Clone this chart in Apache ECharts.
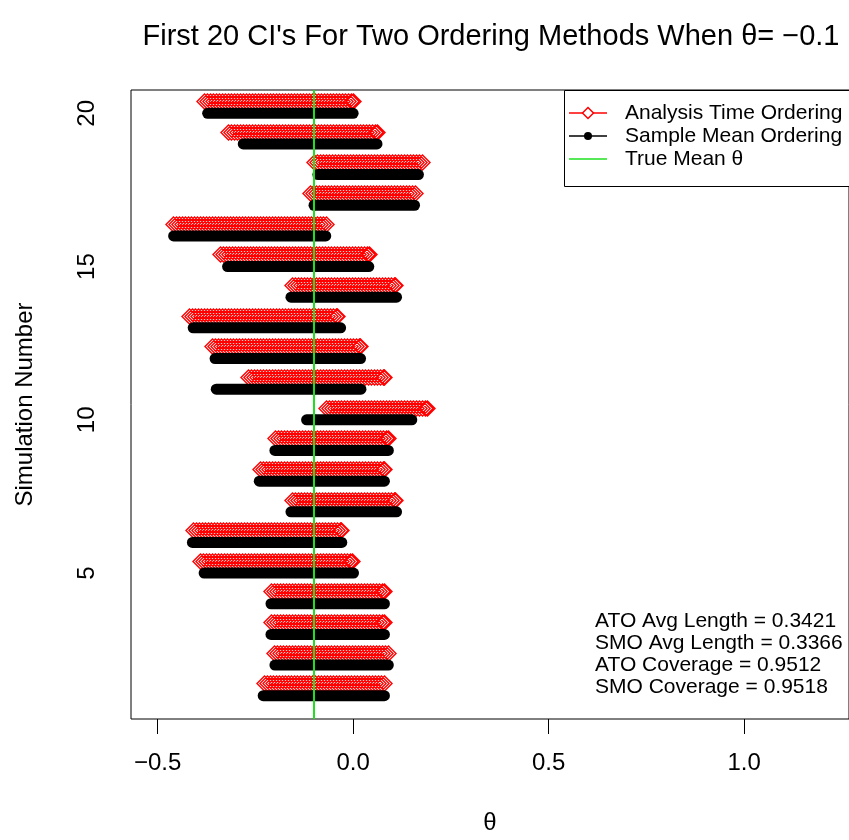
<!DOCTYPE html>
<html>
<head>
<meta charset="utf-8">
<script src="https://cdn.jsdelivr.net/npm/echarts@6/dist/echarts.min.js"></script>
<style>
  html, body { margin: 0; padding: 0; background: #ffffff; }
  #chart { width: 849px; height: 840px; }
</style>
</head>
<body>
<div id="chart"></div>
<script>
// Confidence intervals for the first 20 simulation runs (index 0 = run 1)
const simNumbers = [1, 2, 3, 4, 5, 6, 7, 8, 9, 10, 11, 12, 13, 14, 15, 16, 17, 18, 19, 20];
// Analysis Time Ordering (ATO) limits
const atoLower = [-0.229, -0.203, -0.210, -0.210, -0.391, -0.409, -0.157, -0.239, -0.199, -0.069,
                  -0.269, -0.361, -0.419, -0.157, -0.340, -0.460, -0.110, -0.099, -0.321, -0.382];
const atoUpper = [0.080, 0.090, 0.080, 0.080, -0.004, -0.032, 0.108, 0.080, 0.090, 0.190,
                  0.078, 0.017, -0.042, 0.108, 0.040, -0.069, 0.159, 0.175, 0.060, 0.000];
// Sample Mean Ordering (SMO) limits
const smoLower = [-0.230, -0.200, -0.210, -0.210, -0.381, -0.411, -0.159, -0.240, -0.200, -0.119,
                  -0.350, -0.353, -0.409, -0.159, -0.321, -0.459, -0.100, -0.090, -0.281, -0.372];
const smoUpper = [0.080, 0.090, 0.080, 0.080, 0.001, -0.029, 0.111, 0.080, 0.090, 0.150,
                  0.020, 0.019, -0.032, 0.111, 0.040, -0.070, 0.157, 0.167, 0.061, 0.000];
const trueMean = -0.1;
const xTicks = [-0.5, 0.0, 0.5, 1.0];
const yTicks = [5, 10, 15, 20];
const atoRowShift = 0.4;   // ATO rows sit slightly above the SMO rows
const legendLabels = ['Analysis Time Ordering', 'Sample Mean Ordering', 'True Mean \u03b8'];
const summaryLines = [
  'ATO Avg Length = 0.3421',
  'SMO Avg Length = 0.3366',
  'ATO Coverage = 0.9512',
  'SMO Coverage = 0.9518'
];
const titleText = "First 20 CI's For Two Ordering Methods When \u03b8= \u22120.1";

const FONT = '"Liberation Sans", Arial, Helvetica, sans-serif';
const RED = '#ff0000';
const GREEN = '#1fe01f';

const atoData = simNumbers.map((s, i) => [atoLower[i], atoUpper[i], s + atoRowShift]);
const smoData = simNumbers.map((s, i) => [smoLower[i], smoUpper[i], s]);

// A run of open diamonds packed tightly along the interval (fixed pixel pitch)
function renderDiamondRun(params, api) {
  const y = api.value(2);
  const a = api.coord([api.value(0), y]);
  const b = api.coord([api.value(1), y]);
  const h = 7.5, step = 3;
  const cy = Math.round(a[1]) + 0.5;
  const x0 = Math.round(a[0]) + 0.5, x1 = Math.round(b[0]) + 0.5;
  let d = '';
  const addDiamond = cx => {
    d += 'M' + (cx - h) + ' ' + cy + 'L' + cx + ' ' + (cy - h) + 'L' + (cx + h) + ' ' + cy +
         'L' + cx + ' ' + (cy + h) + 'Z';
  };
  for (let cx = x0; cx < x1 - 0.5; cx += step) addDiamond(cx);
  addDiamond(x1);
  return {
    type: 'path',
    shape: { pathData: d },
    style: { fill: 'none', stroke: RED, lineWidth: 1.4 }
  };
}

// A run of solid dots: drawn as one thick round-capped stroke
function renderDotRun(params, api) {
  const y = api.value(2);
  const a = api.coord([api.value(0), y]);
  const b = api.coord([api.value(1), y]);
  return {
    type: 'line',
    shape: { x1: a[0], y1: a[1], x2: b[0], y2: b[1] },
    style: { stroke: '#000000', lineWidth: 11, lineCap: 'round' }
  };
}

const fmtX = v => (v < 0 ? '\u2212' : '') + Math.abs(v).toFixed(1);

const legendX = 564, legendY = 90, legendRowY = [113, 136, 159];
const legendGraphics = [
  { type: 'rect', shape: { x: legendX + 0.5, y: legendY + 0.5, width: 320, height: 96 },
    style: { fill: '#ffffff', stroke: '#000000', lineWidth: 1 }, z: 10 },
  { type: 'line', shape: { x1: 569, y1: legendRowY[0], x2: 607, y2: legendRowY[0] },
    style: { stroke: RED, lineWidth: 1.3 }, z: 11 },
  { type: 'polygon', shape: { points: [[582.5, legendRowY[0]], [588, legendRowY[0] - 5.5], [593.5, legendRowY[0]], [588, legendRowY[0] + 5.5]] },
    style: { fill: '#ffffff', stroke: RED, lineWidth: 1.5 }, z: 12 },
  { type: 'line', shape: { x1: 569, y1: legendRowY[1], x2: 607, y2: legendRowY[1] },
    style: { stroke: '#000000', lineWidth: 1.3 }, z: 11 },
  { type: 'circle', shape: { cx: 588, cy: legendRowY[1], r: 4 },
    style: { fill: '#000000' }, z: 12 },
  { type: 'line', shape: { x1: 569, y1: legendRowY[2], x2: 607, y2: legendRowY[2] },
    style: { stroke: GREEN, lineWidth: 1.3 }, z: 11 }
].concat(legendLabels.map((t, i) => ({
  type: 'text', x: 625, y: legendRowY[i], z: 12,
  style: { text: t, font: '21px ' + FONT, fill: '#000000', textAlign: 'left', textVerticalAlign: 'middle' }
})));

const summaryGraphics = summaryLines.map((t, i) => ({
  type: 'text', x: 595, y: 621.7 + i * 21.7, z: 12,
  style: { text: t, font: '21px ' + FONT, fill: '#000000', textAlign: 'left', textVerticalAlign: 'middle' }
}));

const chart = echarts.init(document.getElementById('chart'), null, { renderer: 'canvas' });
chart.setOption({
  animation: false,
  backgroundColor: '#ffffff',
  grid: {
    left: 131, top: 90, width: 720, height: 630,
    show: true, borderColor: '#000000', borderWidth: 1, backgroundColor: 'transparent'
  },
  xAxis: {
    type: 'value', min: -0.568, max: 1.268,
    name: '\u03b8', nameLocation: 'middle', nameGap: 92,
    nameTextStyle: { fontSize: 24, fontFamily: FONT, color: '#000000' },
    axisLine: { show: false },
    axisTick: { show: true, customValues: xTicks, length: 15, lineStyle: { color: '#000000', width: 1 } },
    axisLabel: { customValues: xTicks, formatter: fmtX, fontSize: 24, fontFamily: FONT, color: '#000000', margin: 32 },
    splitLine: { show: false }
  },
  yAxis: {
    type: 'value', min: 0.24, max: 20.76,
    name: 'Simulation Number', nameLocation: 'middle', nameGap: 94, nameRotate: 90,
    nameTextStyle: { fontSize: 24, fontFamily: FONT, color: '#000000' },
    axisLine: { show: false },
    axisTick: { show: true, customValues: yTicks, length: 15, lineStyle: { color: '#000000', width: 1 } },
    axisLabel: { customValues: yTicks, rotate: 90, fontSize: 24, fontFamily: FONT, color: '#000000', margin: 32 },
    splitLine: { show: false }
  },
  series: [
    {
      name: 'Analysis Time Ordering', type: 'custom', renderItem: renderDiamondRun,
      data: atoData, encode: { x: [0, 1], y: 2 }, clip: false, z: 2
    },
    {
      name: 'Sample Mean Ordering', type: 'custom', renderItem: renderDotRun,
      data: smoData, encode: { x: [0, 1], y: 2 }, clip: false, z: 3,
      markLine: {
        silent: true, symbol: ['none', 'none'], label: { show: false }, z: 5,
        lineStyle: { color: GREEN, width: 2, type: 'solid' },
        data: [{ xAxis: trueMean }]
      }
    }
  ],
  graphic: [
    { type: 'text', x: 491, y: 37, z: 12,
      style: { text: titleText, font: '29px ' + FONT, fill: '#000000', textAlign: 'center', textVerticalAlign: 'middle' } }
  ].concat(legendGraphics, summaryGraphics)
});
</script>
</body>
</html>
